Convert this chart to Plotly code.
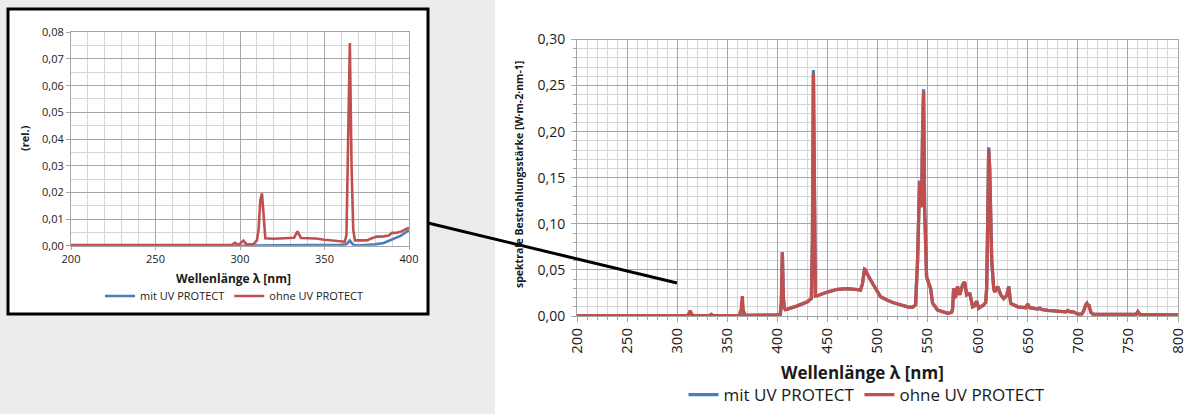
import plotly.graph_objects as go

# ---------------- data ----------------
wl_main = [200, 310, 312, 313, 314, 316, 332, 334, 336, 362, 364, 365, 366, 368, 400, 403, 404, 405, 406, 407,
           408, 410, 420, 430, 434, 435, 436, 437, 438, 440, 450, 460, 470, 480, 483, 485, 487, 488, 490, 496,
           503, 510, 516, 530, 535, 538, 540, 542, 543, 544, 545, 546, 547, 548, 549, 551, 553, 555, 560, 570,
           574, 575, 576, 577, 578, 579, 580, 581, 582, 584, 585, 587, 588, 589, 591, 592, 594, 595, 597, 599,
           601, 603, 606, 608, 609, 610, 611, 612, 613, 614, 616, 617, 620, 623, 626, 629, 631, 633, 640, 648,
           650, 652, 656, 660, 662, 664, 670, 680, 688, 690, 692, 695, 697, 700, 704, 706, 708, 709, 710, 711,
           712, 713, 715, 730, 758, 760, 762, 780, 800]

ohne_main = [0.0005, 0.0005, 0.003, 0.006, 0.003, 0.0005, 0.0005, 0.002, 0.0005, 0.0005, 0.008, 0.0215, 0.006, 0.0008, 0.0012, 0.002, 0.015, 0.069, 0.02, 0.0087,
             0.007, 0.0075, 0.011, 0.0155, 0.019, 0.08, 0.263, 0.06, 0.0217, 0.022, 0.026, 0.029, 0.0296, 0.0285, 0.028, 0.035, 0.0506, 0.05, 0.045, 0.0336,
             0.021, 0.017, 0.0144, 0.010, 0.0095, 0.012, 0.06, 0.145, 0.125, 0.118, 0.20, 0.243, 0.12, 0.06, 0.0426, 0.036, 0.030, 0.014, 0.0065, 0.003,
             0.004, 0.008, 0.030, 0.020, 0.021, 0.028, 0.032, 0.026, 0.023, 0.030, 0.034, 0.037, 0.030, 0.023, 0.024, 0.025, 0.015, 0.010, 0.011, 0.016,
             0.0085, 0.010, 0.012, 0.015, 0.03, 0.10, 0.181, 0.16, 0.09, 0.0607, 0.030, 0.026, 0.032, 0.023, 0.019, 0.022, 0.032, 0.0137, 0.010, 0.009,
             0.013, 0.009, 0.0083, 0.0075, 0.0085, 0.007, 0.006, 0.0047, 0.0045, 0.006, 0.0045, 0.0048, 0.0035, 0.002, 0.0022, 0.006, 0.0125, 0.0137, 0.011, 0.0125,
             0.008, 0.004, 0.002, 0.0018, 0.0017, 0.0047, 0.0017, 0.0015, 0.0013]

mit_main = [0.0, 0.0, 0.0002, 0.0003, 0.0002, 0.0, 0.0, 0.0002, 0.0, 0.0003, 0.001, 0.002, 0.001, 0.0005, 0.0011, 0.002, 0.015, 0.069, 0.02, 0.0087,
            0.007, 0.0075, 0.011, 0.0155, 0.019, 0.08, 0.267, 0.06, 0.0217, 0.022, 0.026, 0.029, 0.0296, 0.0285, 0.028, 0.035, 0.0508, 0.05, 0.045, 0.0336,
            0.021, 0.017, 0.0144, 0.010, 0.0095, 0.012, 0.06, 0.147, 0.125, 0.118, 0.20, 0.246, 0.12, 0.06, 0.0426, 0.036, 0.030, 0.014, 0.0065, 0.003,
            0.004, 0.008, 0.030, 0.020, 0.021, 0.028, 0.032, 0.026, 0.023, 0.030, 0.034, 0.037, 0.030, 0.023, 0.024, 0.025, 0.015, 0.010, 0.011, 0.016,
            0.0085, 0.010, 0.012, 0.015, 0.03, 0.10, 0.183, 0.16, 0.09, 0.0607, 0.030, 0.026, 0.032, 0.023, 0.019, 0.022, 0.032, 0.0137, 0.010, 0.009,
            0.013, 0.009, 0.0083, 0.0075, 0.0085, 0.007, 0.006, 0.0047, 0.0045, 0.006, 0.0045, 0.0048, 0.0035, 0.002, 0.0022, 0.006, 0.0125, 0.0137, 0.011, 0.0125,
            0.008, 0.004, 0.002, 0.0018, 0.0017, 0.0047, 0.0017, 0.0015, 0.0013]

wl_inset_ohne = [200, 295, 297, 299, 302, 304, 308, 310, 311, 312, 313, 314, 315, 320, 330, 332, 334, 336, 340, 345,
                 350, 355, 360, 362, 363, 364, 365, 366, 367, 368, 371, 375, 378, 381, 385, 388, 390, 392, 395, 398, 400]
ohne_inset = [0.0002, 0.0002, 0.0011, 0.0002, 0.0019, 0.0004, 0.0006, 0.002, 0.006, 0.017, 0.0196, 0.010, 0.0028, 0.0026, 0.0028, 0.003, 0.0054, 0.0029, 0.0028, 0.0027,
              0.0022, 0.0018, 0.0014, 0.0015, 0.004, 0.04, 0.076, 0.03, 0.006, 0.002, 0.0019, 0.002, 0.0028, 0.0034, 0.0035, 0.0038, 0.0048, 0.0048, 0.0052, 0.006, 0.0068]

wl_inset_mit = [200, 300, 360, 363, 365, 367, 370, 380, 385, 390, 392, 395, 400]
mit_inset = [0.0, 0.0, 0.0003, 0.0005, 0.0019, 0.0003, 0.0001, 0.0005, 0.001, 0.0023, 0.0028, 0.0037, 0.0058]

series_names = ["mit UV PROTECT", "ohne UV PROTECT"]
main_x_title = "Wellenlänge λ [nm]"
main_y_title = "spektrale Bestrahlungsstärke [W·m-2·nm-1]"
inset_y_title = "(rel.)"

BLUE = "#4a7ebb"
RED = "#c0504d"
FONT = "Open Sans"
W, H = 1198, 414


def px(x):
    return x / W


def py(y):
    return 1 - y / H


fig = go.Figure()

# main chart
fig.add_trace(go.Scatter(x=wl_main, y=mit_main, mode="lines", name=series_names[0],
                         line=dict(color=BLUE, width=3.3), xaxis="x", yaxis="y", legend="legend"))
fig.add_trace(go.Scatter(x=wl_main, y=ohne_main, mode="lines", name=series_names[1],
                         line=dict(color=RED, width=3.3), xaxis="x", yaxis="y", legend="legend"))
# inset chart
fig.add_trace(go.Scatter(x=wl_inset_mit, y=mit_inset, mode="lines", name=series_names[0],
                         line=dict(color=BLUE, width=2.6), xaxis="x2", yaxis="y2", legend="legend2"))
fig.add_trace(go.Scatter(x=wl_inset_ohne, y=ohne_inset, mode="lines", name=series_names[1],
                         line=dict(color=RED, width=2.6), xaxis="x2", yaxis="y2", legend="legend2"))

major_grid = "#a6a6a6"
minor_grid = "#d6d6d6"

fig.update_layout(
    width=W, height=H,
    margin=dict(l=0, r=0, t=0, b=0, pad=0, autoexpand=False),
    paper_bgcolor="#ececec",
    plot_bgcolor="rgba(0,0,0,0)",
    separators=", ",
    font=dict(family=FONT, color="#1a1a1a"),
    xaxis=dict(domain=[px(577), px(1178)], anchor="y", range=[200, 800], dtick=50, tick0=200,
               tickangle=-90, tickfont=dict(size=15), showgrid=True, gridcolor=major_grid, gridwidth=1,
               ticks="outside", ticklen=5, tickcolor=major_grid,
               minor=dict(dtick=10, showgrid=True, gridcolor=minor_grid, ticks="outside", ticklen=3, tickcolor=major_grid),
               showline=True, linecolor=major_grid, mirror=True, zeroline=False, automargin=False),
    yaxis=dict(domain=[py(316), py(39.5)], anchor="x", range=[0, 0.30], dtick=0.05, tickformat=".2f",
               tickfont=dict(size=14), showgrid=True, gridcolor=major_grid,
               ticks="outside", ticklen=5, tickcolor=major_grid, ticklabelstandoff=3,
               minor=dict(dtick=0.01, showgrid=True, gridcolor=minor_grid, ticks="outside", ticklen=3, tickcolor=major_grid),
               showline=True, linecolor=major_grid, mirror=True, zeroline=False, automargin=False),
    xaxis2=dict(domain=[px(71), px(409)], anchor="y2", range=[200, 400], dtick=50, tick0=200,
                tickfont=dict(size=11), showgrid=True, gridcolor=major_grid,
                ticks="outside", ticklen=3, tickcolor=major_grid,
                minor=dict(dtick=10, showgrid=True, gridcolor=minor_grid),
                showline=True, linecolor=major_grid, mirror=True, zeroline=False, automargin=False),
    yaxis2=dict(domain=[py(245.7), py(32.3)], anchor="x2", range=[0, 0.08], dtick=0.01, tickformat=".2f",
                tickfont=dict(size=11), showgrid=True, gridcolor=major_grid,
                ticks="outside", ticklen=4, tickcolor=major_grid,
                minor=dict(dtick=0.005, showgrid=True, gridcolor=minor_grid),
                showline=True, linecolor=major_grid, mirror=True, zeroline=False, automargin=False),
    legend=dict(orientation="h", x=px(867), xanchor="center", y=py(395), yanchor="middle",
                font=dict(size=17), bgcolor="rgba(0,0,0,0)", itemwidth=30, tracegroupgap=0),
    legend2=dict(orientation="h", x=px(234), xanchor="center", y=py(296), yanchor="middle",
                 font=dict(size=11), bgcolor="rgba(0,0,0,0)", itemwidth=30),
    showlegend=True,
)

shapes = [
    # white right-hand area
    dict(type="rect", xref="paper", yref="paper", x0=px(495), x1=1, y0=0, y1=1,
         fillcolor="white", line=dict(width=0), layer="below"),
    # inset frame
    dict(type="rect", xref="paper", yref="paper", x0=px(8), x1=px(428), y0=py(314), y1=py(9),
         fillcolor="white", line=dict(color="black", width=3), layer="below"),
    # connector line
    dict(type="line", xref="paper", yref="paper", x0=px(428), y0=py(223), x1=px(677), y1=py(283),
         line=dict(color="black", width=3), layer="above"),
]
fig.update_layout(shapes=shapes)

annotations = [
    dict(text="<b>" + main_x_title + "</b>", x=px(862), y=py(372), xref="paper", yref="paper",
         showarrow=False, font=dict(size=17), xanchor="center", yanchor="middle"),
    dict(text="<b>" + main_y_title + "</b>", x=px(519), y=py(175), xref="paper", yref="paper",
         showarrow=False, font=dict(size=10.5), textangle=-90, xanchor="center", yanchor="middle"),
    dict(text="<b>" + main_x_title + "</b>", x=px(233), y=py(278), xref="paper", yref="paper",
         showarrow=False, font=dict(size=12), xanchor="center", yanchor="middle"),
    dict(text="<b>" + inset_y_title + "</b>", x=px(25), y=py(138), xref="paper", yref="paper",
         showarrow=False, font=dict(size=11), textangle=-90, xanchor="center", yanchor="middle"),
]
fig.update_layout(annotations=annotations)

fig.write_html("out.html", config={"displayModeBar": False},
               post_script="document.body.style.margin='0';document.body.style.overflow='hidden';")
